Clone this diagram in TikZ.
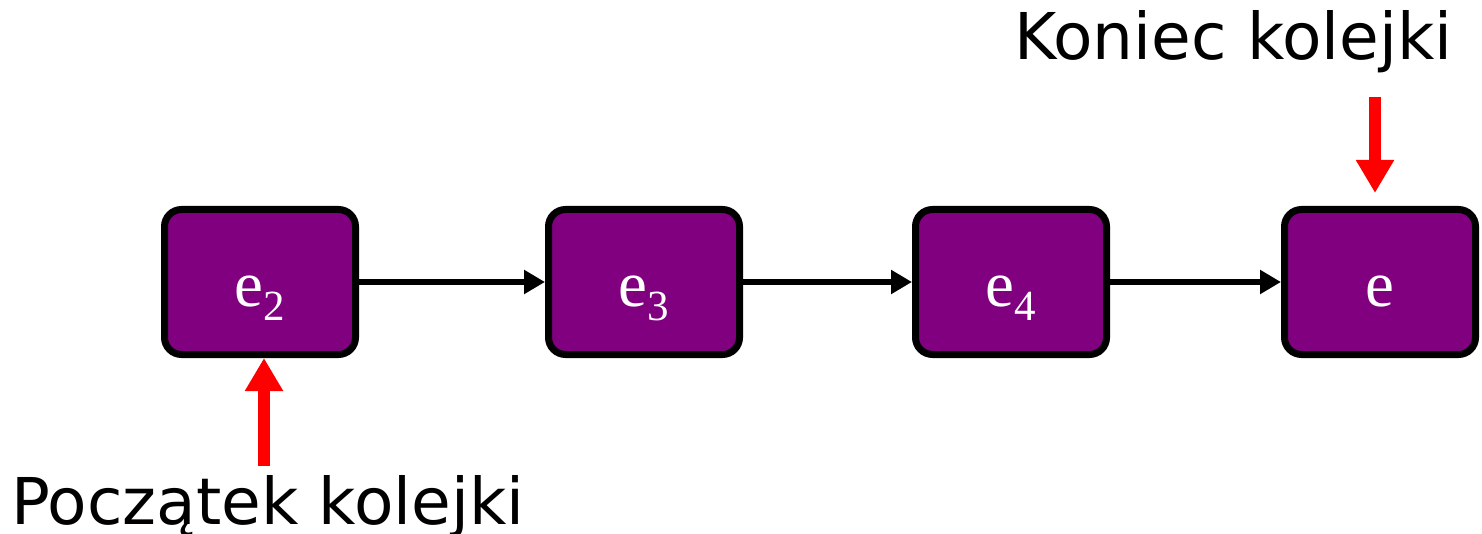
\documentclass[tikz,border=0pt]{standalone}
\usepackage{fontspec}
\setmainfont{DejaVu Sans}
\newfontfamily\elemfont{Liberation Serif}
\usetikzlibrary{arrows.meta}
\definecolor{elempurple}{HTML}{800080}
\definecolor{markred}{HTML}{FF0000}
\newcommand{\elem}[1]{{\elemfont\fontsize{65}{70}\selectfont e\raisebox{-14pt}{\fontsize{43}{46}\selectfont #1}}}
\tikzset{
  elembox/.style={draw=black, line width=7pt, fill=elempurple, rounded corners=17pt,
    minimum width=191pt, minimum height=145pt, inner sep=0pt},
  elemtext/.style={text=white, inner sep=0pt, anchor=base, yshift=-25pt},
  link/.style={draw=black, line width=6pt, -{Triangle[length=21pt,width=23pt]}},
  marker/.style={draw=markred, line width=12pt, -{Triangle[length=33pt,width=36pt]}},
  caption/.style={inner sep=0pt, font=\fontsize{64.5}{70}\selectfont}
}
\begin{document}
\begin{tikzpicture}[x=1pt,y=-1pt]
  \useasboundingbox (0,0) rectangle (1482,534);
  % queue elements
  \node[elembox] (e2) at (260,282) {};
  \node[elembox] (e3) at (644,282) {};
  \node[elembox] (e4) at (1011,282) {};
  \node[elembox] (e)  at (1380,282) {};
  \node[elemtext] (t2) at (e2.center) {\elem{2}};
  \node[elemtext] (t3) at (e3.center) {\elem{3}};
  \node[elemtext] (t4) at (e4.center) {\elem{4}};
  \node[elemtext] (t)  at (e.center)  {\elemfont\fontsize{65}{70}\selectfont e};
  % links between consecutive elements
  \draw[link] (e2.east) -- (e3.west);
  \draw[link] (e3.east) -- (e4.west);
  \draw[link] (e4.east) -- (e.west);
  % head and tail labels
  \node[caption, anchor=base west] (head) at (11,524) {Początek kolejki};
  \node[caption, anchor=base west] (tail) at (1014,60) {Koniec kolejki};
  \coordinate (hs) at (264,466);
  \coordinate (ts) at (1375,97);
  \draw[marker] (hs) -- (hs |- e2.south);
  \draw[marker, shorten >=13pt] (ts) -- (ts |- e.north);
\end{tikzpicture}
\end{document}
